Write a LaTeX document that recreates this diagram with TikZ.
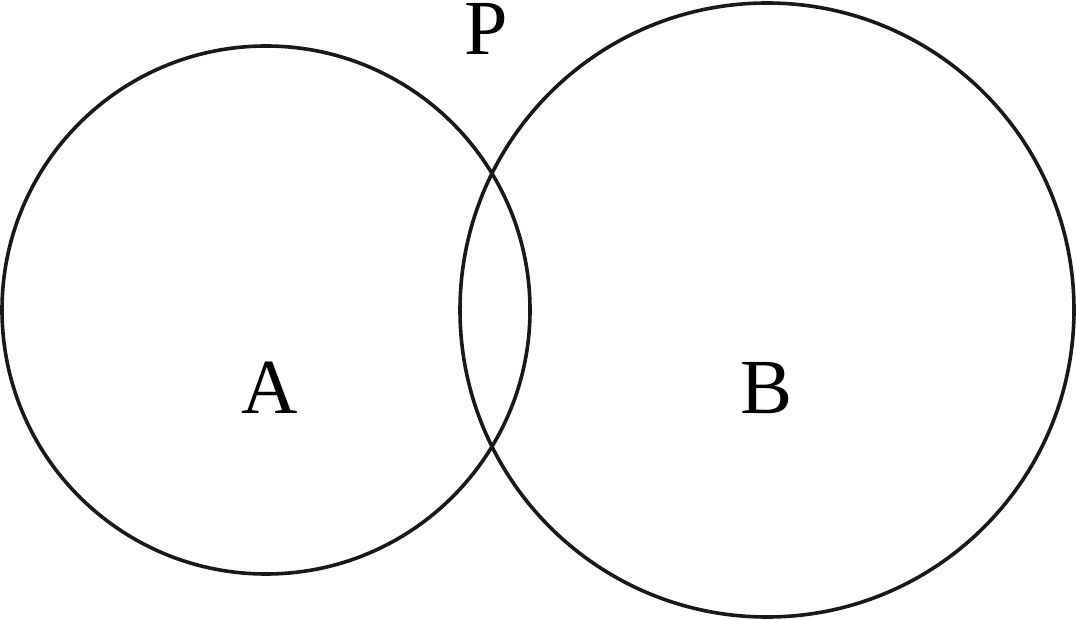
\documentclass[tikz,border=0pt]{standalone}
\usepackage{fontspec}
\setmainfont{Liberation Serif}
\begin{document}
\begin{tikzpicture}[x=1pt,y=-1pt,
  ring/.style={draw=black!90, line width=3.6pt},
  lbl/.style={font=\fontsize{78}{80}\selectfont, inner sep=0pt, anchor=base}]
\useasboundingbox (0,0) rectangle (1076,620);
\draw[ring] (266,310) circle (264);
\draw[ring] (767,310) circle (307);
\node[lbl] (A) at (270,413) {A};
\node[lbl] (B) at (767,413) {B};
\node[lbl] (P) at (486,55) {P};
\end{tikzpicture}
\end{document}
